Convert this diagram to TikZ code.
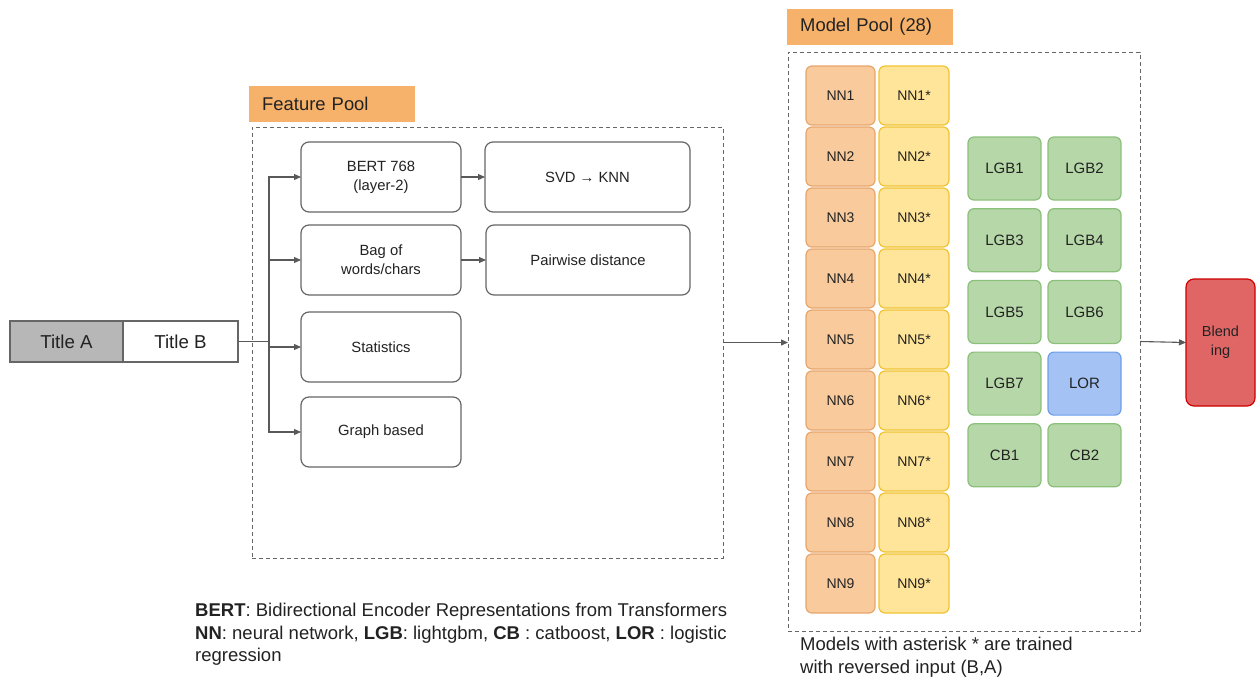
\documentclass[tikz,border=0pt]{standalone}
\usepackage{fontspec}
\setmainfont{Liberation Sans}
\usepackage{tikz}
\usetikzlibrary{positioning, arrows.meta}
\definecolor{inkDark}{HTML}{222222}
\definecolor{edgeGrey}{HTML}{666666}
\definecolor{arrowGrey}{HTML}{595959}
\definecolor{titleGrey}{HTML}{B7B7B7}
\definecolor{tagOrange}{HTML}{F6B26B}
\definecolor{nnFill}{HTML}{F9CB9C}
\definecolor{nnEdge}{HTML}{E8A66C}
\definecolor{starFill}{HTML}{FFE599}
\definecolor{starEdge}{HTML}{F1C232}
\definecolor{lgbFill}{HTML}{B6D7A8}
\definecolor{lgbEdge}{HTML}{8BC07A}
\definecolor{lorFill}{HTML}{A4C2F4}
\definecolor{lorEdge}{HTML}{6D9EEB}
\definecolor{blendFill}{HTML}{E06666}
\definecolor{blendEdge}{HTML}{CC0000}
\newcommand{\pxfont}[2]{\fontsize{#1}{#2}\selectfont}
\tikzset{
  title/.style  = {draw=edgeGrey, line width=1.2pt, minimum height=41pt, inner sep=0pt,
                   outer sep=0pt, font=\pxfont{18.7}{21}, text=inkDark},
  fbox/.style   = {draw=edgeGrey, line width=1.2pt, fill=white, rounded corners=8pt,
                   align=center, font=\pxfont{14.8}{19}, text=inkDark, inner sep=0pt,
                   outer sep=0pt, minimum width=160pt, minimum height=70pt},
  zone/.style   = {draw=edgeGrey, line width=1pt, dash pattern=on 4pt off 3pt,
                   inner sep=0pt, outer sep=0pt},
  tag/.style    = {fill=tagOrange, text width=140pt, inner xsep=13pt, inner ysep=0pt,
                   minimum height=36pt, align=left, font=\pxfont{18.4}{21}, text=inkDark},
  mbox/.style   = {line width=1.2pt, rounded corners=6pt, inner sep=0pt, outer sep=0pt,
                   font=\pxfont{14}{19}, text=inkDark, align=center},
  nn/.style     = {mbox, draw=nnEdge, fill=nnFill, minimum width=69pt, minimum height=59pt},
  nns/.style    = {mbox, draw=starEdge, fill=starFill, minimum width=70pt, minimum height=59pt},
  lgb/.style    = {mbox, draw=lgbEdge, fill=lgbFill, minimum width=73pt, minimum height=63pt,
                   font=\pxfont{15}{19}},
  lor/.style    = {lgb, draw=lorEdge, fill=lorFill},
  blend/.style  = {mbox, draw=blendEdge, fill=blendFill, rounded corners=8pt,
                   minimum width=69pt, minimum height=127pt, font=\pxfont{14.5}{19}},
  note/.style   = {inner sep=0pt, align=left, font=\pxfont{18.5}{22.5}, text=inkDark},
  ln/.style     = {draw=arrowGrey, line width=1.1pt},
  fl/.style     = {-{Triangle[length=7pt, width=6pt]}, draw=arrowGrey, line width=1.1pt}
}

\begin{document}
\begin{tikzpicture}[x=1pt, y=-1pt, node distance=2pt]
  \useasboundingbox (0,0) rectangle (1256,680);

  % --- input pair
  \node[title, fill=titleGrey, minimum width=113pt, anchor=north west] (tA) at (10,321) {Title A};
  \node[title, fill=white, minimum width=115pt, right=0pt of tA] (tB) {Title B};

  % --- feature pool
  \node[zone, minimum width=471pt, minimum height=431pt, anchor=north west] (fpool) at (252,127) {};
  \node[tag, anchor=north west] (ftag) at (249,86) {Feature Pool};

  \node[fbox, anchor=north west] (bert) at (301,142) {BERT 768\\(layer-2)};
  \node[fbox, below=13pt of bert] (bag) {Bag of\\words/chars};
  \node[fbox, below=17pt of bag] (stat) {Statistics};
  \node[fbox, below=15pt of stat] (graph) {Graph based};
  \node[fbox, minimum width=205pt, right=24pt of bert] (svd) {SVD → KNN};
  \node[fbox, minimum width=204pt, right=25pt of bag] (pair) {Pairwise distance};

  \coordinate[right=31pt of tB] (split);
  \draw[ln] (tB.east) -- (split);
  \draw[fl] (split) |- (bert.west);
  \draw[fl] (split) |- (bag.west);
  \draw[fl] (split) |- (stat.west);
  \draw[fl] (split) |- (graph.west);
  \draw[fl] (bert) -- (svd);
  \draw[fl] (bag) -- (pair);

  % --- model pool
  \node[zone, minimum width=352pt, minimum height=579pt, anchor=north west] (mpool) at (788,52) {};
  \node[tag, anchor=north west] (mtag) at (787,9) {Model Pool (28)};

  \node[nn, anchor=north west] (nn1) at (806,66) {NN1};
  \node[nn, below=of nn1] (nn2) {NN2};
  \node[nn, below=of nn2] (nn3) {NN3};
  \node[nn, below=of nn3] (nn4) {NN4};
  \node[nn, below=of nn4] (nn5) {NN5};
  \node[nn, below=of nn5] (nn6) {NN6};
  \node[nn, below=of nn6] (nn7) {NN7};
  \node[nn, below=of nn7] (nn8) {NN8};
  \node[nn, below=of nn8] (nn9) {NN9};

  \node[nns, right=4pt of nn1] (nn1s) {NN1*};
  \node[nns, right=4pt of nn2] (nn2s) {NN2*};
  \node[nns, right=4pt of nn3] (nn3s) {NN3*};
  \node[nns, right=4pt of nn4] (nn4s) {NN4*};
  \node[nns, right=4pt of nn5] (nn5s) {NN5*};
  \node[nns, right=4pt of nn6] (nn6s) {NN6*};
  \node[nns, right=4pt of nn7] (nn7s) {NN7*};
  \node[nns, right=4pt of nn8] (nn8s) {NN8*};
  \node[nns, right=4pt of nn9] (nn9s) {NN9*};

  \node[lgb, anchor=north west] (lgb1) at (968,137) {LGB1};
  \node[lgb, right=7pt of lgb1] (lgb2) {LGB2};
  \node[lgb, below=8.7pt of lgb1] (lgb3) {LGB3};
  \node[lgb, right=7pt of lgb3] (lgb4) {LGB4};
  \node[lgb, below=8.7pt of lgb3] (lgb5) {LGB5};
  \node[lgb, right=7pt of lgb5] (lgb6) {LGB6};
  \node[lgb, below=8.7pt of lgb5] (lgb7) {LGB7};
  \node[lor, right=7pt of lgb7] (lor) {LOR};
  \node[lgb, below=8.7pt of lgb7] (cb1) {CB1};
  \node[lgb, right=7pt of cb1] (cb2) {CB2};

  % --- blending
  \node[blend, anchor=west] (blend) at (1186,342.5) {Blend\\ing};

  \draw[fl] (fpool.east) -- (fpool.east -| mpool.west);
  \draw[fl] (mpool.east) -- (blend.west);

  % --- notes
  \node[note, anchor=north west] (legend) at (195,603)
       {\textbf{BERT}: Bidirectional Encoder Representations from Transformers\\
        \textbf{NN}: neural network, \textbf{LGB}: lightgbm, \textbf{CB} : catboost, \textbf{LOR} : logistic\\
        regression};
  \node[note, anchor=north west] (starnote) at (800,637)
       {Models with asterisk * are trained\\with reversed input (B,A)};
\end{tikzpicture}
\end{document}
